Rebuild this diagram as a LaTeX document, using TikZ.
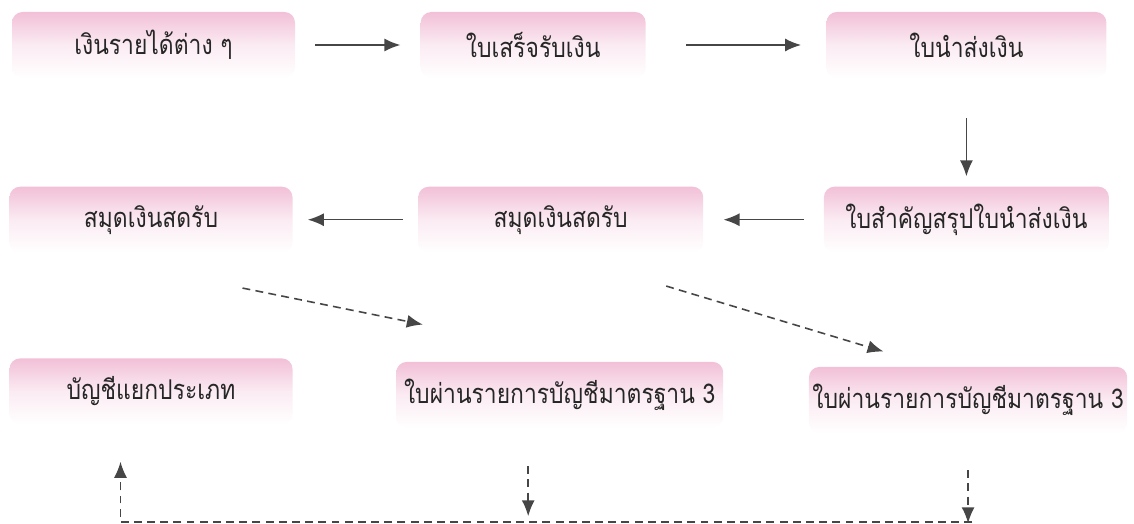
\documentclass[tikz,border=0pt]{standalone}
\usepackage{fontspec}
\newfontfamily\thaifont[Script=Thai, FakeStretch=0.84]{Loma}
\usetikzlibrary{positioning, calc, arrows.meta}

\definecolor{boxpink}{RGB}{236,165,198}
\definecolor{linegray}{RGB}{70,70,70}

\begin{document}
\begin{tikzpicture}[
      box/.style={rectangle, rounded corners=6pt, minimum height=1.32cm, inner xsep=2pt,
        top color=boxpink!70, bottom color=white, middle color=boxpink!22,
        font=\thaifont\fontsize{15.5}{18}\selectfont, text=black!85},
      flow/.style={draw=linegray, line width=0.8pt, -{Latex[width=2.6mm, length=3.2mm]}},
      post/.style={flow, line width=0.9pt, dash pattern=on 4.5pt off 3pt}]
      \useasboundingbox (0,0) rectangle (22.68,-10.48);
      \node[box, minimum width=5.66cm] (income) at (3.07,-0.9) {เงินรายได้ต่าง ๆ};
      \node[box, minimum width=4.5cm] (receipt) [right=2.5cm of income] {ใบเสร็จรับเงิน};
      \node[box, minimum width=5.6cm] (remit) [right=3.6cm of receipt] {ใบนำส่งเงิน};
      \node[box, minimum width=5.7cm] (summary) [below=2.16cm of remit] {ใบสำคัญสรุปใบนำส่งเงิน};
      \node[box, minimum width=5.7cm] (cashbookR) [left=2.4cm of summary] {สมุดเงินสดรับ};
      \node[box, minimum width=5.66cm] (cashbookL) [left=2.5cm of cashbookR] {สมุดเงินสดรับ};
      \node[box, minimum width=5.66cm] (ledger) [below=2.1cm of cashbookL] {บัญชีแยกประเภท};
      \node[box, minimum width=6.54cm] (voucherL) [right=2.06cm of ledger, yshift=-0.07cm] {ใบผ่านรายการบัญชีมาตรฐาน 3};
      \node[box, minimum width=6.3cm] (voucherR) [right=1.7cm of voucherL, yshift=-0.1cm] {ใบผ่านรายการบัญชีมาตรฐาน 3};

      % free ends of the dashed connectors
      \coordinate (postL) at ($(cashbookL.south)+(1.83,-0.7)$);
      \coordinate (postLend) at ($(voucherL.north west)+(0.54,0.74)$);
      \coordinate (postR) at ($(cashbookR.south)+(2.11,-0.66)$);
      \coordinate (postRend) at ($(voucherR.north west)+(1.5,0.3)$);
      \coordinate (downL) at ($(voucherL.south)+(-0.63,-0.76)$);
      \coordinate (downLend) at ($(voucherL.south)+(-0.63,-1.76)$);
      \coordinate (downR) at ($(voucherR.south)+(0,-0.74)$);
      \coordinate (downRend) at ($(voucherR.south)+(0,-1.8)$);
      \coordinate (ledgerIn) at ($(ledger.south)+(-0.61,-1.94)$);
      \coordinate (ledgerTip) at ($(ledger.south)+(-0.61,-0.74)$);
      \coordinate (busEnd) at ($(ledgerIn -| voucherR.south)+(0.08,0)$);

      \draw[flow, shorten <=0.4cm, shorten >=0.4cm] (income) -- (receipt);
      \draw[flow, shorten <=0.8cm, shorten >=0.5cm] (receipt) -- (remit);
      \draw[flow, shorten <=0.8cm, shorten >=0.2cm] (remit) -- (summary);
      \draw[flow, shorten <=0.4cm, shorten >=0.4cm] (summary) -- (cashbookR);
      \draw[flow, shorten <=0.3cm, shorten >=0.3cm] (cashbookR) -- (cashbookL);

      \draw[post] (postL) -- (postLend);
      \draw[post] (postR) -- (postRend);
      \draw[post] (downL) -- (downLend);
      \draw[post] (downR) -- (downRend);
      \draw[post] (busEnd) -- (ledgerIn) -- (ledgerTip);
\end{tikzpicture}
\end{document}
